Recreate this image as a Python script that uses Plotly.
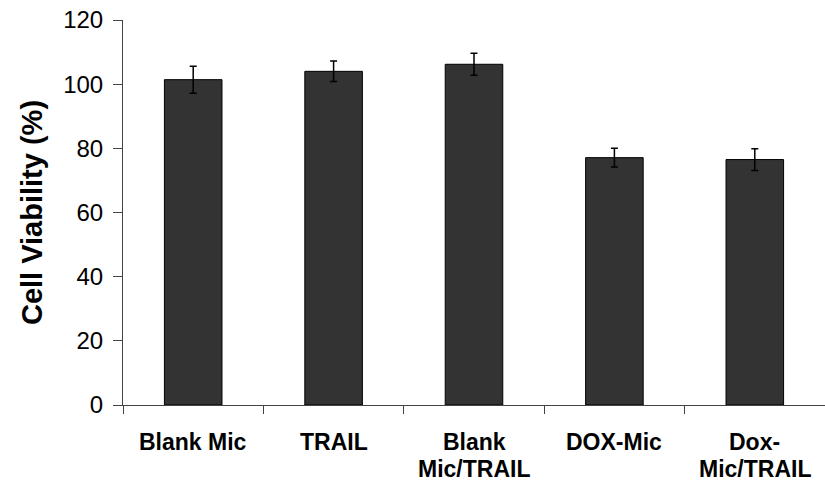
import plotly.graph_objects as go

categories = ["Blank Mic", "TRAIL", "Blank\nMic/TRAIL", "DOX-Mic", "Dox-\nMic/TRAIL"]
viability = [101.4, 104.0, 106.2, 77.1, 76.5]
errors = [4.2, 3.2, 3.4, 2.9, 3.4]
y_ticks = [0, 20, 40, 60, 80, 100, 120]

FONT = "Liberation Sans, Arial, sans-serif"

fig = go.Figure()
fig.add_trace(go.Bar(
    x=categories,
    y=viability,
    width=0.41,
    marker=dict(color="#333333", line=dict(color="#000000", width=1)),
    error_y=dict(type="data", array=errors, visible=True, color="#000000",
                 thickness=1.5, width=3.5),
))

# category labels, one text line per annotation (tight Excel-like line spacing)
for cat in categories:
    for i, line in enumerate(cat.split("\n")):
        fig.add_annotation(
            x=cat, xref="x", y=0, yref="paper",
            yanchor="top", yshift=-22 - 27 * i,
            text="<b>%s</b>" % line, showarrow=False,
            font=dict(size=23, family=FONT, color="#000000"),
        )

fig.update_layout(
    width=825, height=483,
    margin=dict(l=123, r=0, t=20, b=78),
    plot_bgcolor="white", paper_bgcolor="white",
    showlegend=False,
    font=dict(family=FONT, color="#000000"),
)
fig.update_xaxes(
    type="category",
    showline=True, linecolor="#444444", linewidth=1,
    ticks="outside", tickson="boundaries", ticklen=8, tickcolor="#444444",
    showticklabels=False,
    showgrid=False, zeroline=False,
)
fig.update_yaxes(
    range=[0, 120], tickvals=y_ticks,
    showline=True, linecolor="#444444", linewidth=1,
    ticks="outside", ticklen=9, tickcolor="#444444",
    tickfont=dict(size=24, family=FONT),
    showgrid=False, zeroline=False,
    ticklabelstandoff=5,
    title=dict(text="Cell Viability (%)", font=dict(size=29, family=FONT, weight="bold"),
               standoff=12),
)

fig.write_html("out.html")
